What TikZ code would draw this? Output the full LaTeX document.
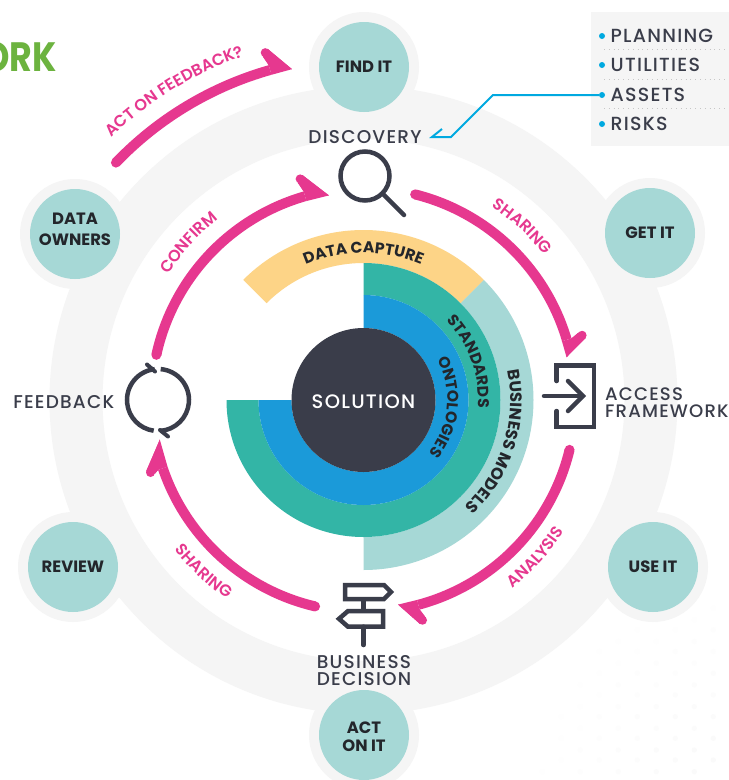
\documentclass[tikz,border=0pt]{standalone}
\usepackage{fontspec}
\setmainfont{Poppins}
\newfontfamily\lab[LetterSpace=6.5]{Poppins Medium}
\newfontfamily\semi{Poppins SemiBold}
\newfontfamily\heavy{Poppins Bold}
\usetikzlibrary{decorations.text,calc}
\definecolor{ink}{HTML}{3A3D4A}
\definecolor{nearblack}{HTML}{23262B}
\definecolor{pinkc}{HTML}{E6388F}
\definecolor{haloc}{HTML}{F5F5F5}
\definecolor{satc}{HTML}{A6D8D6}
\definecolor{tealc}{HTML}{33B5A6}
\definecolor{bluec}{HTML}{1B9AD9}
\definecolor{yellowc}{HTML}{FDD487}
\definecolor{linkc}{HTML}{00A9E0}
\definecolor{greenc}{HTML}{6CB33F}
\tikzset{
  sat/.style={circle,fill=satc,minimum size=90pt,inner sep=0pt,align=center,text=nearblack,font=\heavy\fontsize{16.4}{18.5}\selectfont},
  halo/.style={fill=haloc},
  label/.style={text=ink,inner sep=0pt,align=center,font=\lab\fontsize{18.5}{17}\selectfont},
  icon/.style={draw=ink,line width=4.5pt,line cap=round,miter limit=8},
  listitem/.style={text=ink,inner sep=0pt,anchor=west,font=\lab\fontsize{19}{19}\selectfont},
  bulletdot/.style={circle,fill=linkc,minimum size=6pt,inner sep=0pt},
  pinkshaft/.style={draw=pinkc,line width=10pt},
}
% start angle, barb angle, tip angle, radius, barb radius
\newcommand\pinkarrow[5]{%
  \draw[pinkshaft] (#1:#4 pt) arc[start angle=#1,end angle=#2,radius=#4 pt];
  \fill[pinkc] (#1:#4 pt) circle[radius=5pt];
  \coordinate (barbc) at (#2:#5 pt);
  \coordinate (tipc) at (#3:#4 pt-4.5pt);
  \fill[pinkc] (barbc) circle[radius=4.5pt];
  \fill[pinkc] (tipc) -- ($(barbc)!4.5pt!90:(tipc)$) -- ($(barbc)!4.5pt!-90:(tipc)$)
     -- (#2:#4 pt+5pt) -- (#2:#4 pt-5pt) -- cycle;
  \fill[pinkc] (tipc) -- ($(barbc)!4.5pt!-90:(tipc)$) -- (#2:#4 pt+5pt) -- cycle;
  \fill[pinkc] (tipc) -- ($(barbc)!4.5pt!90:(tipc)$) -- (#2:#4 pt+5pt) -- cycle;
}
% centre angle, baseline radius, direction (1 ccw, -1 cw), format, text
\newcommand\curved[5]{%
  \pgfmathsetmacro\aS{#1-#3*55}%
  \pgfmathsetmacro\aE{#1+#3*55}%
  \path[decorate,decoration={text along path,text align=center,text={|#4|#5}}]
    (\aS:#2 pt) arc[start angle=\aS,end angle=\aE,radius=#2 pt];
}
\newcommand\pinkfmt{\color{pinkc}\semi\fontsize{16.2}{16}\selectfont}
\newcommand\blackfmt{\color{nearblack}\heavy\fontsize{15.6}{16}\selectfont}
\newcommand\blackfmtb{\color{nearblack}\heavy\fontsize{16.4}{16}\selectfont}
\newcommand\twolines[3]{\raisebox{#1}[0pt][0pt]{\begin{tabular}{@{}c@{}}#2\\#3\end{tabular}}}
\begin{document}
\begin{tikzpicture}[x=1pt,y=-1pt]
\useasboundingbox (0,0) rectangle (729,780);
\clip (0,0) rectangle (729,780);
\fill[white] (0,0) rectangle (729,780);

% faint dot field
\foreach \i in {0,...,9}{
  \foreach \j in {0,...,8}{
    \pgfmathsetmacro\xa{694.3-38*\i}
    \pgfmathsetmacro\ya{771.7-21.7*\j}
    \pgfmathsetmacro\xb{713.3-38*\i}
    \pgfmathsetmacro\yb{760-21.7*\j}
    \pgfmathsetmacro\ka{max(0,60-0.3*veclen(729-\xa,780-\ya))}
    \pgfmathsetmacro\kb{max(0,60-0.3*veclen(729-\xb,780-\yb))}
    \fill[haloc!\ka!white] (\xa,\ya) circle[radius=2.6pt];
    \fill[haloc!\kb!white] (\xb,\yb) circle[radius=2.6pt];
  }
}

% big grey ring
\fill[haloc,even odd rule] (363.5,400) circle[radius=314pt] (363.5,400) circle[radius=261pt];
% satellite halos
\foreach \p in {(364,67),(650,233),(653,567),(364,735),(73,567),(75,234)}
  \fill[halo] \p circle[radius=55pt];

\node[sat] (findit) at (364,67) {FIND IT};
\node[sat] (getit) at (650,233) {GET IT};
\node[sat] (useit) at (653,567) {USE IT};
\node[sat] (actonit) at (364,735) {\twolines{-8pt}{ACT}{ON IT}};
\node[sat] (review) at (73,567) {REVIEW};
\node[sat,font=\heavy\fontsize{16.4}{20.5}\selectfont] (dataowners) at (75,234) {\twolines{-1pt}{DATA}{OWNERS}};

% title fragment
\node[anchor=east,inner sep=0pt,text=greenc,font=\heavy\fontsize{41}{41}\selectfont] (title) at (57,57) {\scalebox{0.85}[1]{ORK}};

% list panel
\fill[haloc] (591,12) rectangle (729,146);
\foreach \yy in {49.5,79,108}
  \draw[gray!45,line width=0.6pt,dash pattern=on 0.8pt off 4pt] (604,\yy) -- (726,\yy);
\node[bulletdot] (b1) at (602,36) {};
\node[bulletdot] (b2) at (602,65) {};
\node[bulletdot] (b3) at (602,95) {};
\node[bulletdot] (b4) at (602,124) {};
\node[listitem] (planning) at (610.5,36) {PLANNING};
\node[listitem] (utilities) at (610.5,65) {UTILITIES};
\node[listitem] (assets) at (610.5,95) {ASSETS};
\node[listitem] (risks) at (610.5,124) {RISKS};

% labels
\node[label] (discovery) at (365,137) {DISCOVERY};
\node[label,anchor=east] (feedback) at (114.5,402.5) {FEEDBACK};
\node[label,align=left,anchor=west,font=\lab\fontsize{18.1}{17}\selectfont] (access) at (605,402.5) {ACCESS\\FRAMEWORK};
\node[label] (business) at (364,670.5) {BUSINESS\\DECISION};

% blue connector
\coordinate (k1) at (493,95);
\coordinate (k2) at (451,137);
\coordinate (k3) at (432,137);
\coordinate (k4) at (442,129);
\draw[linkc,line width=2pt] (b3) -- (k1) -- (k2) -- (k3) -- (k4);

\begin{scope}[shift={(363.5,400)}]
  % sector rings
  \fill[satc] (45:170pt) arc[start angle=45,end angle=-90,radius=170pt] -- (-90:137pt) arc[start angle=-90,end angle=45,radius=137pt] -- cycle;
  \fill[yellowc] (135:170pt) arc[start angle=135,end angle=45,radius=170pt] -- (45:137pt) arc[start angle=45,end angle=135,radius=137pt] -- cycle;
  \fill[tealc] (90:137pt) arc[start angle=90,end angle=-180,radius=137pt] -- (180:105pt) arc[start angle=-180,end angle=90,radius=105pt] -- cycle;
  \fill[bluec] (90:105pt) arc[start angle=90,end angle=-180,radius=105pt] -- (180:72pt) arc[start angle=-180,end angle=90,radius=72pt] -- cycle;
  \node[circle,fill=ink,minimum size=144pt,inner sep=0pt,text=white,font=\lab\fontsize{19.5}{20}\selectfont] (solution) at (0,0) {\raisebox{-8.5pt}[0pt][0pt]{SOLUTION}};

  % pink arrows
  \pinkarrow{75.9}{16.5}{11.9}{212}{228}
  \pinkarrow{-13.6}{-75}{-80.4}{212}{228}
  \pinkarrow{256.8}{198.8}{191}{212}{225}
  \pinkarrow{167.7}{106}{99.6}{212}{230}
  \pinkarrow{136.2}{105.8}{102.2}{343}{361}

  % curved texts
  \curved{90}{147}{-1}{\blackfmt}{DATA CAPTURE}
  \curved{20}{115}{-1}{\blackfmt}{STANDARDS}
  \curved{-5}{84}{-1}{\blackfmt}{ONTOLOGIES}
  \curved{-17.5}{147}{-1}{\blackfmtb}{BUSINESS MODELS}
  \curved{47.5}{232}{-1}{\pinkfmt}{SHARING}
  \curved{-42.5}{240}{1}{\pinkfmt}{ANALYSIS}
  \curved{227}{241}{1}{\pinkfmt}{SHARING}
  \curved{138}{232}{-1}{\pinkfmt}{CONFIRM}
  \curved{121.5}{364}{-1}{\pinkfmt}{ACT ON FEEDBACK?}
\end{scope}

% magnifier
\draw[icon] (365,176) circle[radius=24.5pt];
\draw[icon] (383,194) -- (404,215);

% signpost
\draw[icon,line cap=butt] (345,585) -- (384,585) -- (391,592) -- (384,599) -- (345,599) -- cycle;
\draw[icon,line cap=butt] (383,611) -- (348,611) -- (339,618.8) -- (348,626.7) -- (383,626.7) -- cycle;
\draw[icon,line cap=butt] (363.5,599) -- (363.5,611);
\draw[icon] (363.5,626.7) -- (363.5,645);

% access icon
\draw[icon] (556.7,381) -- (556.7,365.5) -- (594,365.5) -- (594,427) -- (556.7,427) -- (556.7,411);
\draw[icon] (544,396) -- (582,396);
\draw[icon] (568,381) -- (583,396) -- (568,411);

% feedback cycle icon
\begin{scope}[shift={(158,400)}]
  \draw[icon,line cap=butt] (96:31pt) arc[start angle=96,end angle=262,radius=31pt];
  \draw[icon,line cap=butt] (85:31pt) arc[start angle=85,end angle=-86,radius=31pt];
\end{scope}
\draw[icon,line width=4pt] (147,364.5) -- (155,371.5);
\draw[icon,line width=4pt] (168,436.5) -- (160,430);
\end{tikzpicture}
\end{document}
